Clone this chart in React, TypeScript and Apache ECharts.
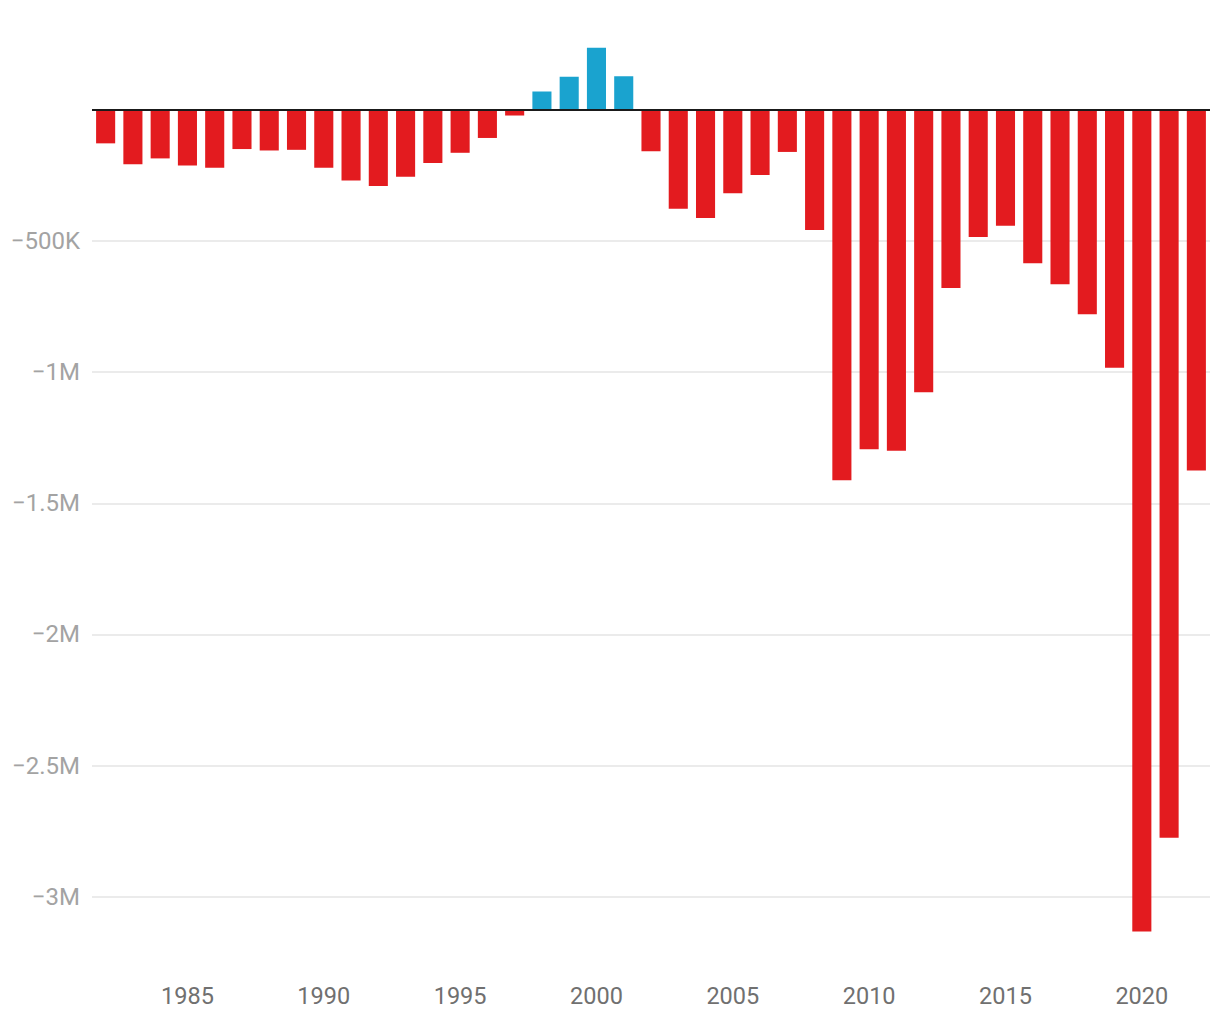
import React, { useEffect, useRef } from "react";
import * as echarts from "echarts";

const years: string[] = [
  "1982","1983","1984","1985","1986","1987","1988","1989","1990","1991",
  "1992","1993","1994","1995","1996","1997","1998","1999","2000","2001",
  "2002","2003","2004","2005","2006","2007","2008","2009","2010","2011",
  "2012","2013","2014","2015","2016","2017","2018","2019","2020","2021","2022",
];

// Budget balance (millions of dollars)
const balance: number[] = [
  -127977, -207802, -185367, -212308, -221227, -149730, -155178, -152639, -221036, -269238,
  -290321, -255051, -203186, -163952, -107431, -21884, 69270, 125610, 236241, 128236,
  -157758, -377585, -412727, -318346, -248181, -160701, -458553, -1412688, -1294373, -1299599,
  -1076573, -679775, -484793, -441960, -584651, -665446, -779137, -983594, -3132460, -2775349,
  -1375473,
];

const yTicks: number[] = [-500000, -1000000, -1500000, -2000000, -2500000, -3000000];
const yTickLabels: string[] = ["−500K", "−1M", "−1.5M", "−2M", "−2.5M", "−3M"];
const labeledYears: string[] = ["1985", "1990", "1995", "2000", "2005", "2010", "2015", "2020"];

const RED = "#e31b1f";
const BLUE = "#1aa3cf";

export default function App() {
  const ref = useRef<HTMLDivElement>(null);
  useEffect(() => {
    if (!ref.current) return;
    const chart = echarts.init(ref.current, null, { renderer: "svg" });
    chart.setOption({
      animation: false,
      backgroundColor: "#ffffff",
      grid: { left: 92, right: 10, top: 44.2, bottom: 70.8, containLabel: false },
      xAxis: {
        type: "category",
        data: years,
        axisLine: { show: false, onZero: false },
        axisTick: { show: false },
        position: "bottom",
        axisLabel: {
          interval: (_i: number, v: string) => labeledYears.indexOf(v) >= 0,
          color: "#707070",
          fontFamily: "Roboto",
          fontSize: 23.5,
          margin: 35,
        },
        splitLine: { show: false },
      },
      yAxis: {
        type: "value",
        min: -3200000,
        max: 250000,
        minInterval: 500000,
        maxInterval: 500000,
        splitNumber: 7,
        axisLine: { show: false },
        axisTick: { show: false },
        axisLabel: {
          showMinLabel: false,
          showMaxLabel: false,
          color: "#a3a3a3",
          fontFamily: "Roboto",
          fontSize: 24,
          margin: 12,
          formatter: (v: number) => {
            const i = yTicks.indexOf(v);
            return i >= 0 ? yTickLabels[i] : "";
          },
        },
        splitLine: {
          show: true,
          showMinLine: false,
          showMaxLine: false,
          lineStyle: { color: "#e4e4e4", width: 1.5 },
        },
      },
      series: [
        {
          type: "bar",
          data: balance.map((v) => ({
            value: v,
            itemStyle: { color: v >= 0 ? BLUE : RED },
          })),
          barCategoryGap: "30%",
          markLine: {
            silent: true,
            symbol: "none",
            label: { show: false },
            lineStyle: { color: "#1a1a1a", width: 2, type: "solid" },
            data: [{ yAxis: 0 }],
            z: 10,
          },
        },
      ],
    });
    return () => chart.dispose();
  }, []);
  return (
    <div
      ref={ref}
      style={{ position: "fixed", left: 0, top: 0, width: 1220, height: 1020, background: "#fff" }}
    />
  );
}
